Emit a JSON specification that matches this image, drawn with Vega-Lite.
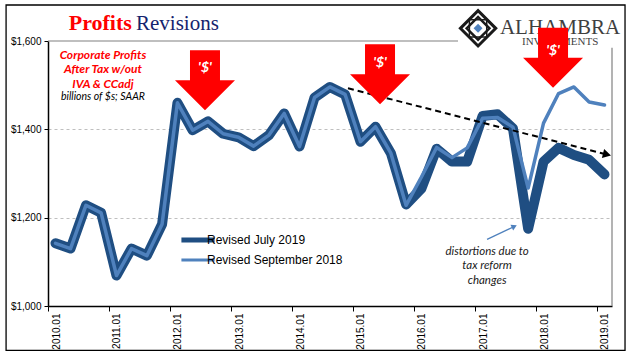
{
  "$schema": "https://vega.github.io/schema/vega-lite/v6.json",
  "width": 564,
  "height": 265,
  "autosize": {"type": "none"},
  "padding": {"left": 48, "top": 41, "right": 29, "bottom": 52},
  "background": "white",
  "config": {"view": {"stroke": null}},
  "datasets": {
    "profits": [
      {"date": "2010-02-15", "value": 1142, "series": "Revised July 2019"},
      {"date": "2010-05-16", "value": 1130, "series": "Revised July 2019"},
      {"date": "2010-08-16", "value": 1228, "series": "Revised July 2019"},
      {"date": "2010-11-15", "value": 1211, "series": "Revised July 2019"},
      {"date": "2011-02-15", "value": 1069, "series": "Revised July 2019"},
      {"date": "2011-05-16", "value": 1130, "series": "Revised July 2019"},
      {"date": "2011-08-16", "value": 1114, "series": "Revised July 2019"},
      {"date": "2011-11-15", "value": 1185, "series": "Revised July 2019"},
      {"date": "2012-02-15", "value": 1460, "series": "Revised July 2019"},
      {"date": "2012-05-16", "value": 1398, "series": "Revised July 2019"},
      {"date": "2012-08-16", "value": 1418, "series": "Revised July 2019"},
      {"date": "2012-11-15", "value": 1390, "series": "Revised July 2019"},
      {"date": "2013-02-15", "value": 1382, "series": "Revised July 2019"},
      {"date": "2013-05-16", "value": 1362, "series": "Revised July 2019"},
      {"date": "2013-08-16", "value": 1387, "series": "Revised July 2019"},
      {"date": "2013-11-15", "value": 1436, "series": "Revised July 2019"},
      {"date": "2014-02-15", "value": 1361, "series": "Revised July 2019"},
      {"date": "2014-05-16", "value": 1472, "series": "Revised July 2019"},
      {"date": "2014-08-16", "value": 1496, "series": "Revised July 2019"},
      {"date": "2014-11-15", "value": 1479, "series": "Revised July 2019"},
      {"date": "2015-02-15", "value": 1372, "series": "Revised July 2019"},
      {"date": "2015-05-16", "value": 1406, "series": "Revised July 2019"},
      {"date": "2015-08-16", "value": 1346, "series": "Revised July 2019"},
      {"date": "2015-11-15", "value": 1230, "series": "Revised July 2019"},
      {"date": "2016-02-15", "value": 1266, "series": "Revised July 2019"},
      {"date": "2016-05-16", "value": 1356, "series": "Revised July 2019"},
      {"date": "2016-08-16", "value": 1327, "series": "Revised July 2019"},
      {"date": "2016-11-15", "value": 1327, "series": "Revised July 2019"},
      {"date": "2017-02-15", "value": 1430, "series": "Revised July 2019"},
      {"date": "2017-05-16", "value": 1434, "series": "Revised July 2019"},
      {"date": "2017-08-16", "value": 1402, "series": "Revised July 2019"},
      {"date": "2017-11-15", "value": 1175, "series": "Revised July 2019"},
      {"date": "2018-02-15", "value": 1327, "series": "Revised July 2019"},
      {"date": "2018-05-16", "value": 1358, "series": "Revised July 2019"},
      {"date": "2018-08-16", "value": 1342, "series": "Revised July 2019"},
      {"date": "2018-11-15", "value": 1331, "series": "Revised July 2019"},
      {"date": "2019-02-15", "value": 1298, "series": "Revised July 2019"},
      {"date": "2010-02-15", "value": 1142, "series": "Revised September 2018"},
      {"date": "2010-05-16", "value": 1130, "series": "Revised September 2018"},
      {"date": "2010-08-16", "value": 1228, "series": "Revised September 2018"},
      {"date": "2010-11-15", "value": 1211, "series": "Revised September 2018"},
      {"date": "2011-02-15", "value": 1069, "series": "Revised September 2018"},
      {"date": "2011-05-16", "value": 1130, "series": "Revised September 2018"},
      {"date": "2011-08-16", "value": 1114, "series": "Revised September 2018"},
      {"date": "2011-11-15", "value": 1185, "series": "Revised September 2018"},
      {"date": "2012-02-15", "value": 1460, "series": "Revised September 2018"},
      {"date": "2012-05-16", "value": 1398, "series": "Revised September 2018"},
      {"date": "2012-08-16", "value": 1418, "series": "Revised September 2018"},
      {"date": "2012-11-15", "value": 1390, "series": "Revised September 2018"},
      {"date": "2013-02-15", "value": 1382, "series": "Revised September 2018"},
      {"date": "2013-05-16", "value": 1362, "series": "Revised September 2018"},
      {"date": "2013-08-16", "value": 1387, "series": "Revised September 2018"},
      {"date": "2013-11-15", "value": 1436, "series": "Revised September 2018"},
      {"date": "2014-02-15", "value": 1361, "series": "Revised September 2018"},
      {"date": "2014-05-16", "value": 1472, "series": "Revised September 2018"},
      {"date": "2014-08-16", "value": 1496, "series": "Revised September 2018"},
      {"date": "2014-11-15", "value": 1479, "series": "Revised September 2018"},
      {"date": "2015-02-15", "value": 1372, "series": "Revised September 2018"},
      {"date": "2015-05-16", "value": 1406, "series": "Revised September 2018"},
      {"date": "2015-08-16", "value": 1346, "series": "Revised September 2018"},
      {"date": "2015-11-15", "value": 1228, "series": "Revised September 2018"},
      {"date": "2016-02-15", "value": 1292, "series": "Revised September 2018"},
      {"date": "2016-05-16", "value": 1359, "series": "Revised September 2018"},
      {"date": "2016-08-16", "value": 1336, "series": "Revised September 2018"},
      {"date": "2016-11-15", "value": 1358, "series": "Revised September 2018"},
      {"date": "2017-02-15", "value": 1425, "series": "Revised September 2018"},
      {"date": "2017-05-16", "value": 1427, "series": "Revised September 2018"},
      {"date": "2017-08-16", "value": 1405, "series": "Revised September 2018"},
      {"date": "2017-11-15", "value": 1267, "series": "Revised September 2018"},
      {"date": "2018-02-15", "value": 1414, "series": "Revised September 2018"},
      {"date": "2018-05-16", "value": 1481, "series": "Revised September 2018"},
      {"date": "2018-08-16", "value": 1496, "series": "Revised September 2018"},
      {"date": "2018-11-15", "value": 1462, "series": "Revised September 2018"},
      {"date": "2019-02-15", "value": 1455, "series": "Revised September 2018"}
    ]
  },
  "encoding": {
    "x": {
      "field": "date",
      "type": "temporal",
      "title": null,
      "scale": {"type": "utc", "domain": [{"year": 2010, "month": 1, "date": 1, "utc": true}, {"year": 2019, "month": 4, "date": 1, "utc": true}]},
      "axis": {
        "title": null,
        "values": [
          {"year": 2010, "month": 1, "date": 1, "utc": true},
          {"year": 2011, "month": 1, "date": 1, "utc": true},
          {"year": 2012, "month": 1, "date": 1, "utc": true},
          {"year": 2013, "month": 1, "date": 1, "utc": true},
          {"year": 2014, "month": 1, "date": 1, "utc": true},
          {"year": 2015, "month": 1, "date": 1, "utc": true},
          {"year": 2016, "month": 1, "date": 1, "utc": true},
          {"year": 2017, "month": 1, "date": 1, "utc": true},
          {"year": 2018, "month": 1, "date": 1, "utc": true},
          {"year": 2019, "month": 1, "date": 1, "utc": true}
        ],
        "labelExpr": "utcFormat(datum.value, '%Y') + '.01'",
        "labelAngle": 270,
        "labelOffset": 8,
        "labelFontSize": 10,
        "labelFont": "Liberation Sans",
        "labelColor": "#000000",
        "labelPadding": 2,
        "labelFlush": false,
        "labelOverlap": false,
        "tickSize": 5,
        "tickColor": "#000000",
        "domainColor": "#000000",
        "domainWidth": 1.5,
        "grid": false
      }
    },
    "y": {
      "field": "value",
      "type": "quantitative",
      "title": null,
      "scale": {"domain": [1000, 1600], "nice": false, "zero": false},
      "axis": {
        "title": null,
        "values": [1000, 1200, 1400, 1600],
        "format": "$,.0f",
        "labelFontSize": 10,
        "labelFont": "Liberation Sans",
        "labelColor": "#000000",
        "labelPadding": 3,
        "tickSize": 4,
        "tickColor": "#000000",
        "domainColor": "#000000",
        "domainWidth": 1.5,
        "grid": true,
        "gridColor": "#BFBFBF",
        "gridDash": [3, 3],
        "gridOpacity": {"condition": {"test": "datum.value === 1200 || datum.value === 1400", "value": 1}, "value": 0}
      }
    }
  },
  "layer": [
    {
      "data": {"values": [{"date": "2009-04-25", "date2": "2019-06-18", "value": 1681.5, "value2": 899.6}]},
      "mark": {"type": "rect", "fillOpacity": 0, "stroke": "#000000", "strokeWidth": 1.3},
      "encoding": {"x2": {"field": "date2"}, "y2": {"field": "value2"}}
    },
    {
      "data": {"values": [
        {"date": "2010-01-01", "date2": "2016-09-21", "value": 1600, "value2": 1600},
        {"date": "2019-04-01", "date2": "2019-04-01", "value": 1000, "value2": 1585}
      ]},
      "mark": {"type": "rule", "color": "#808080", "strokeWidth": 1.2},
      "encoding": {"x2": {"field": "date2"}, "y2": {"field": "value2"}}
    },
    {
      "data": {"values": [{"date": "2017-01-19", "value": 1628.7}]},
      "layer": [
        {"mark": {"type": "point", "shape": "diamond", "size": 1250, "filled": false, "stroke": "#1a1a1a", "strokeWidth": 3, "opacity": 1}},
        {"mark": {"type": "point", "shape": "diamond", "size": 520, "filled": false, "stroke": "#1a1a1a", "strokeWidth": 2.5, "opacity": 1}},
        {"mark": {"type": "point", "shape": "square", "size": 300, "filled": false, "stroke": "#1a1a1a", "strokeWidth": 1.5, "opacity": 1}},
        {"mark": {"type": "point", "shape": "diamond", "size": 80, "filled": true, "fill": "#4F81BD", "opacity": 1}}
      ]
    },
    {
      "data": {"values": [{"date": "2017-05-30", "value": 1616, "text": "ALHAMBRA"}]},
      "mark": {"type": "text", "align": "left", "baseline": "alphabetic", "font": "Liberation Serif", "fontSize": 21, "color": "#3F3F3F"},
      "encoding": {"text": {"field": "text"}}
    },
    {
      "data": {"values": [{"date": "2017-10-09", "value": 1591.7, "text": "INVESTMENTS"}]},
      "mark": {"type": "text", "align": "left", "baseline": "alphabetic", "font": "Liberation Serif", "fontSize": 11, "color": "#3F3F3F"},
      "encoding": {"text": {"field": "text"}}
    },
    {
      "data": {"name": "profits"},
      "transform": [{"filter": "datum.series === 'Revised July 2019'"}],
      "mark": {"type": "line", "strokeWidth": 10, "strokeJoin": "round", "strokeCap": "round"},
      "encoding": {
        "color": {
          "field": "series",
          "type": "nominal",
          "scale": {"domain": ["Revised July 2019", "Revised September 2018"], "range": ["#1F4E82", "#4F81BD"]},
          "legend": {
            "orient": "none",
            "legendX": 144,
            "legendY": 193,
            "title": null,
            "symbolType": "stroke",
            "symbolSize": 1100,
            "symbolStrokeWidth": 5,
            "labelFontSize": 12,
            "labelFont": "Liberation Sans",
            "labelColor": "#000000",
            "labelOffset": 3,
            "rowPadding": 4,
            "encode": {"symbols": {"update": {"strokeWidth": {"signal": "datum.value === 'Revised July 2019' ? 5 : 3"}}}}
          }
        }
      }
    },
    {
      "data": {"name": "profits"},
      "transform": [{"filter": "datum.series === 'Revised September 2018'"}],
      "mark": {"type": "line", "strokeWidth": 3.5, "strokeJoin": "round", "strokeCap": "round"},
      "encoding": {"color": {"field": "series", "type": "nominal"}}
    },
    {
      "data": {"values": [{"date": "2014-12-02", "value": 1493}, {"date": "2019-03-02", "value": 1343}]},
      "mark": {"type": "line", "color": "#000000", "strokeWidth": 2, "strokeDash": [6, 4]}
    },
    {
      "data": {"values": [{"date": "2019-03-02", "value": 1343}]},
      "mark": {"type": "point", "shape": "triangle-right", "size": 90, "filled": true, "color": "#000000", "opacity": 1, "angle": 14}
    },
    {
      "data": {"values": [{"date": "2012-07-29", "value": 1511}, {"date": "2015-06-12", "value": 1525}, {"date": "2018-04-13", "value": 1562}]},
      "mark": {"type": "point", "shape": "M-0.5,-1L0.5,-1L0.5,0L1,0L0,1L-1,0L-0.5,0Z", "size": 3600, "filled": true, "color": "#FF0000", "opacity": 1}
    },
    {
      "data": {"values": [{"date": "2012-07-29", "value": 1538, "text": "'$'"}, {"date": "2015-06-12", "value": 1551, "text": "'$'"}, {"date": "2018-04-13", "value": 1578, "text": "'$'"}]},
      "mark": {"type": "text", "font": "Lato", "fontStyle": "italic", "fontWeight": "bold", "fontSize": 14, "color": "#FFFFFF", "align": "center", "baseline": "middle"},
      "encoding": {"text": {"field": "text"}}
    },
    {
      "data": {"values": [{"date": "2011-05-18", "value": 1625, "text": "Profits"}]},
      "mark": {"type": "text", "align": "right", "baseline": "alphabetic", "font": "Liberation Serif", "fontWeight": "bold", "fontSize": 22, "color": "#FF0000"},
      "encoding": {"text": {"field": "text"}}
    },
    {
      "data": {"values": [{"date": "2011-06-12", "value": 1625, "text": "Revisions"}]},
      "mark": {"type": "text", "align": "left", "baseline": "alphabetic", "font": "Liberation Serif", "fontSize": 21, "color": "#14236E"},
      "encoding": {"text": {"field": "text"}}
    },
    {
      "data": {"values": [
        {"date": "2010-11-26", "value": 1569, "text": "Corporate  Profits"},
        {"date": "2010-11-26", "value": 1535.5, "text": "After Tax w/out"},
        {"date": "2010-11-26", "value": 1502, "text": "IVA & CCadj"}
      ]},
      "mark": {"type": "text", "font": "Lato", "fontStyle": "italic", "fontWeight": "bold", "fontSize": 12, "color": "#FF0000", "align": "center", "baseline": "middle"},
      "encoding": {"text": {"field": "text"}}
    },
    {
      "data": {"values": [{"date": "2010-11-26", "value": 1472.5, "text": "billions of $s; SAAR"}]},
      "mark": {"type": "text", "font": "Lato", "fontStyle": "italic", "fontSize": 10.5, "color": "#000000", "align": "center", "baseline": "middle"},
      "encoding": {"text": {"field": "text"}}
    },
    {
      "data": {"values": [{"date": "2017-03-14", "value": 1151}, {"date": "2017-08-24", "value": 1180}]},
      "mark": {"type": "line", "color": "#4F81BD", "strokeWidth": 1.3}
    },
    {
      "data": {"values": [{"date": "2017-08-24", "value": 1180}]},
      "mark": {"type": "point", "shape": "triangle-right", "size": 40, "filled": true, "color": "#4F81BD", "opacity": 1, "angle": -25}
    },
    {
      "data": {"values": [
        {"date": "2017-03-14", "value": 1122, "text": "distortions due to"},
        {"date": "2017-03-14", "value": 1091, "text": "tax reform"},
        {"date": "2017-03-14", "value": 1057, "text": "changes"}
      ]},
      "mark": {"type": "text", "font": "Lato", "fontStyle": "italic", "fontSize": 11.5, "color": "#1A1A1A", "align": "center", "baseline": "middle"},
      "encoding": {"text": {"field": "text"}}
    }
  ]
}
